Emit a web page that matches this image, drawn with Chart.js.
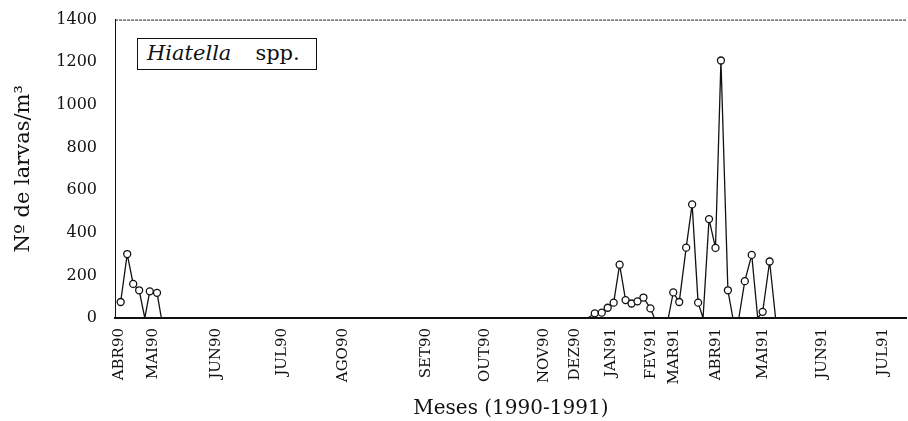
<!DOCTYPE html>
<html>
<head>
<meta charset="utf-8">
<script src="https://cdn.jsdelivr.net/npm/chart.js@4.4.1/dist/chart.umd.min.js"></script>
<style>
  html, body { margin: 0; padding: 0; background: #fff; overflow: hidden; }
  #wrap { position: relative; width: 912px; height: 421px; }
  #tag {
    position: absolute; left: 137px; top: 38px; width: 180px; height: 32px;
    border: 1.5px solid #111; background: #fff; box-sizing: border-box;
    font-family: "DejaVu Serif", serif; font-size: 21px; color: #111;
    line-height: 29px; padding-left: 9px; white-space: nowrap;
  }
  #tag i { margin-right: 24px; }
</style>
</head>
<body>
<div id="wrap">
  <canvas id="chart" width="912" height="421"></canvas>
  <div id="tag"><i>Hiatella</i>spp.</div>
</div>
<script>
// position along the sampling axis (arbitrary units)
const sampleX = [5.7, 12.3, 18.3, 24.3, 30, 35, 42.3, 46.7,
  476, 483, 490, 496, 502, 508, 514, 520, 526, 532, 539, 543,
  557, 562, 568, 575, 581, 587, 592, 598, 604.5, 610, 617, 622,
  628, 634, 641, 647, 652, 659, 665, 797];
// larvae per m3
const larvae = [75, 300, 160, 130, 0, 125, 118, 0,
  0, 22, 25, 48, 72, 250, 84, 68, 78, 96, 45, 0,
  0, 120, 75, 330, 533, 72, 0, 464, 329, 1208, 130, 0,
  0, 173, 296, 0, 29, 265, 0, 0];

const monthLabels = ['ABR90', 'MAI90', 'JUN90', 'JUL90', 'AGO90', 'SET90', 'OUT90', 'NOV90',
  'DEZ90', 'JAN91', 'FEV91', 'MAR91', 'ABR91', 'MAI91', 'JUN91', 'JUL91'];
const monthPos = [4, 38, 102, 168, 230, 313, 373, 432, 463, 499, 540, 563, 605, 652, 712, 773];

const yTicks = [0, 200, 400, 600, 800, 1000, 1200, 1400];

const serif = '"DejaVu Serif", serif';

// dashed top edge of the frame
const framePlugin = {
  id: 'frame',
  afterDraw(chart) {
    const { ctx, chartArea } = chart;
    ctx.save();
    ctx.strokeStyle = '#222';
    ctx.lineWidth = 1;
    ctx.setLineDash([3, 1]);
    ctx.beginPath();
    ctx.moveTo(chartArea.left, chartArea.top + 0.5);
    ctx.lineTo(chartArea.right, chartArea.top + 0.5);
    ctx.stroke();
    ctx.restore();
  }
};

const ctx = document.getElementById('chart').getContext('2d');
new Chart(ctx, {
  type: 'line',
  data: {
    datasets: [{
      data: sampleX.map((x, i) => ({ x: x, y: larvae[i] })),
      borderColor: '#111',
      borderWidth: 1.3,
      pointBackgroundColor: '#fff',
      pointBorderColor: '#111',
      pointBorderWidth: 1.3,
      pointRadius: c => (c.raw && c.raw.y === 0 ? 0 : 3.5),
      tension: 0
    }]
  },
  options: {
    responsive: false,
    animation: false,
    layout: { padding: { top: 17, right: 0, left: 0, bottom: 0 } },
    plugins: { legend: { display: false }, tooltip: { enabled: false } },
    scales: {
      x: {
        type: 'linear',
        min: 0,
        max: 797,
        afterFit: s => { s.height = 103; },
        afterBuildTicks: s => { s.ticks = monthPos.map(v => ({ value: v })); },
        grid: { display: false },
        border: { color: '#111', width: 2 },
        ticks: {
          autoSkip: false,
          minRotation: 90,
          maxRotation: 90,
          padding: 2,
          color: '#111',
          font: { family: serif, size: 15 },
          callback: (v, i) => monthLabels[i]
        },
        title: {
          display: true,
          text: 'Meses (1990-1991)',
          color: '#111',
          font: { family: serif, size: 20 },
          padding: { top: 0, bottom: 0 }
        }
      },
      y: {
        min: 0,
        max: 1400,
        afterFit: s => { s.width = 115; },
        afterBuildTicks: s => { s.ticks = yTicks.map(v => ({ value: v })); },
        grid: { display: false },
        border: { color: '#111', width: 1 },
        ticks: {
          padding: 10,
          color: '#111',
          font: { family: serif, size: 16 },
          callback: v => String(v)
        },
        title: {
          display: true,
          text: 'Nº de larvas/m³',
          color: '#111',
          font: { family: serif, size: 21 },
          padding: { top: 11, bottom: 0 }
        }
      }
    }
  },
  plugins: [framePlugin]
});
</script>
</body>
</html>
